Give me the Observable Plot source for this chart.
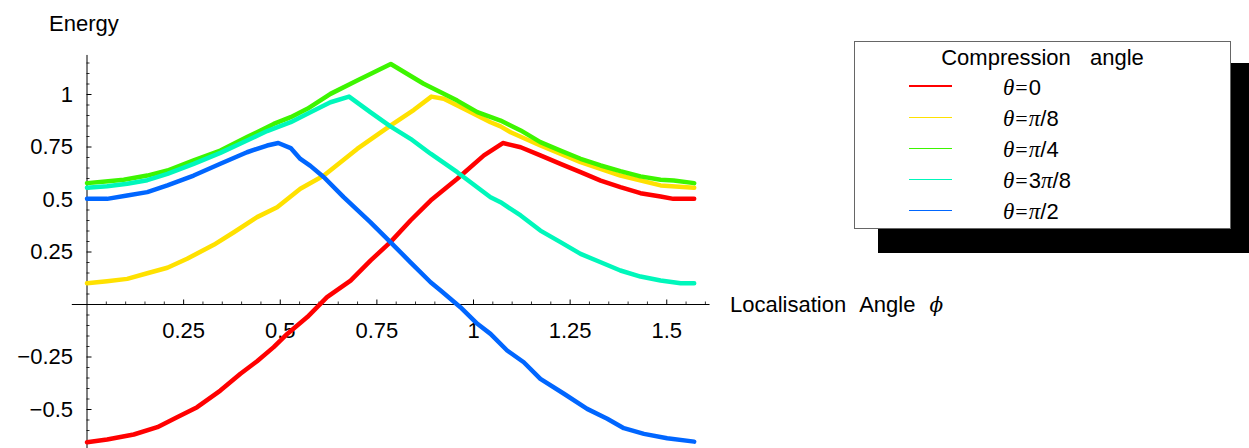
<!DOCTYPE html>
<html>
<head>
<meta charset="utf-8">
<script src="https://cdn.jsdelivr.net/npm/d3@7"></script>
<script src="https://cdn.jsdelivr.net/npm/@observablehq/plot@0.6"></script>
<style>
  body { margin: 0; background: #fff; }
  #wrap { position: relative; width: 1249px; height: 448px; overflow: hidden;
          font-family: "Liberation Sans", Arial, Helvetica, sans-serif; color: #000; }
  #chart { position: absolute; left: 0; top: 0; }
  .abs { position: absolute; white-space: nowrap; font-size: 22px; line-height: 22px; }
  .m { font-family: "Liberation Serif", "Times New Roman", serif; font-style: italic; font-size: 23px; }
  .eq { font-family: "Liberation Serif", "Times New Roman", serif; padding: 0 1px; }
  .phi { font-family: "DejaVu Serif", serif; font-style: italic; font-size: 20px; }
</style>
</head>
<body>
<div id="wrap">
  <div id="chart"></div>
</div>
<script>
// ---- data ----
const seriesNames = ["θ=0", "θ=π/8", "θ=π/4", "θ=3π/8", "θ=π/2"];
const seriesColors = ["#ff0000", "#ffe100", "#3df500", "#00f7bb", "#0066ff"];

const phiRed = [0, 0.052, 0.121, 0.182, 0.233, 0.285, 0.345, 0.397, 0.440, 0.483, 0.518, 0.570, 0.621, 0.682, 0.734, 0.785, 0.837, 0.889, 0.958, 1.027, 1.076, 1.122, 1.173, 1.225, 1.277, 1.329, 1.380, 1.432, 1.484, 1.517, 1.571];
const eRed   = [-0.656, -0.643, -0.619, -0.584, -0.537, -0.489, -0.410, -0.330, -0.270, -0.203, -0.140, -0.060, 0.035, 0.114, 0.210, 0.297, 0.400, 0.495, 0.599, 0.710, 0.769, 0.749, 0.710, 0.670, 0.630, 0.590, 0.559, 0.530, 0.514, 0.503, 0.503];

const phiYellow = [0, 0.052, 0.104, 0.156, 0.208, 0.259, 0.328, 0.380, 0.440, 0.492, 0.552, 0.613, 0.699, 0.785, 0.846, 0.891, 0.923, 0.975, 1.044, 1.070, 1.096, 1.173, 1.277, 1.380, 1.484, 1.571];
const eYellow   = [0.101, 0.111, 0.122, 0.149, 0.175, 0.218, 0.284, 0.344, 0.416, 0.463, 0.551, 0.614, 0.741, 0.852, 0.927, 0.990, 0.980, 0.932, 0.868, 0.848, 0.820, 0.757, 0.678, 0.614, 0.567, 0.556];

const phiGreen = [0, 0.048, 0.095, 0.156, 0.208, 0.276, 0.345, 0.414, 0.483, 0.527, 0.570, 0.630, 0.699, 0.786, 0.871, 0.958, 1.010, 1.070, 1.122, 1.173, 1.225, 1.277, 1.329, 1.380, 1.432, 1.484, 1.518, 1.571];
const eGreen   = [0.578, 0.586, 0.594, 0.614, 0.638, 0.686, 0.733, 0.797, 0.860, 0.892, 0.932, 1.003, 1.067, 1.145, 1.051, 0.971, 0.916, 0.876, 0.829, 0.773, 0.733, 0.694, 0.662, 0.635, 0.610, 0.594, 0.590, 0.578];

const phiCyan = [0, 0.052, 0.104, 0.156, 0.208, 0.276, 0.345, 0.414, 0.466, 0.527, 0.578, 0.630, 0.678, 0.733, 0.785, 0.837, 0.889, 0.958, 1.044, 1.070, 1.122, 1.173, 1.225, 1.277, 1.329, 1.380, 1.432, 1.484, 1.536, 1.571];
const eCyan   = [0.556, 0.563, 0.575, 0.592, 0.622, 0.670, 0.722, 0.781, 0.826, 0.868, 0.916, 0.963, 0.990, 0.916, 0.848, 0.789, 0.718, 0.630, 0.511, 0.487, 0.424, 0.352, 0.297, 0.241, 0.201, 0.162, 0.133, 0.114, 0.101, 0.101];

const phiBlue = [0, 0.052, 0.104, 0.156, 0.208, 0.276, 0.345, 0.414, 0.466, 0.495, 0.527, 0.552, 0.578, 0.613, 0.664, 0.733, 0.785, 0.837, 0.889, 0.915, 0.966, 1.010, 1.044, 1.087, 1.130, 1.173, 1.234, 1.294, 1.346, 1.389, 1.441, 1.501, 1.571];
const eBlue   = [0.503, 0.503, 0.519, 0.535, 0.567, 0.614, 0.670, 0.725, 0.757, 0.769, 0.745, 0.693, 0.660, 0.606, 0.511, 0.392, 0.297, 0.201, 0.106, 0.067, -0.013, -0.092, -0.140, -0.219, -0.275, -0.354, -0.425, -0.497, -0.544, -0.589, -0.616, -0.637, -0.653];

const xTicks = [0.25, 0.5, 0.75, 1, 1.25, 1.5];
const xTickLabels = ["0.25", "0.5", "0.75", "1", "1.25", "1.5"];
const yTicks = [-0.5, -0.25, 0.25, 0.5, 0.75, 1];
const yTickLabels = ["\u22120.5", "\u22120.25", "0.25", "0.5", "0.75", "1"];

const yLabel = "Energy";
const xLabelWords = ["Localisation", "Angle"];
const xLabelSymbol = "ϕ";
const legendTitle = "Compression angle";

// ---- build table ----
const phis = [phiRed, phiYellow, phiGreen, phiCyan, phiBlue];
const energies = [eRed, eYellow, eGreen, eCyan, eBlue];
const rows = [];
seriesNames.forEach((name, k) => {
  phis[k].forEach((p, i) => rows.push({phi: p, energy: energies[k][i], series: name}));
});

// scale geometry
const xDomain = [0, 1.6], xRange = [86.5, 704.9];
const yDomain = [-0.5, 1], yRange = [409, 94];
const pxPerX = (xRange[1] - xRange[0]) / (xDomain[1] - xDomain[0]);
const pxPerY = (yRange[0] - yRange[1]) / (yDomain[1] - yDomain[0]);

const isMajor = (v, step) => Math.abs(v / step - Math.round(v / step)) < 1e-6;
const xMinor = d3.range(1, 33).map(i => +(i * 0.05).toFixed(2)).filter(v => !isMajor(v, 0.25));
const yMinor = d3.range(-13, 24).map(i => +(i * 0.05).toFixed(2)).filter(v => !isMajor(v, 0.25));

const xAxisStart = -0.038, xAxisEnd = 1.612;
const yAxisStart = -0.687, yAxisEnd = 1.186;

const chart = Plot.plot({
  width: 1249,
  height: 448,
  margin: 0,
  style: {background: "transparent", fontFamily: "Liberation Sans, Arial, sans-serif"},
  x: {domain: xDomain, range: xRange, axis: null},
  y: {domain: yDomain, range: yRange, axis: null},
  color: {domain: seriesNames, range: seriesColors},
  marks: [
    // axes lines
    Plot.ruleY([0], {x1: xAxisStart, x2: xAxisEnd, stroke: "#000", strokeWidth: 1}),
    Plot.ruleX([0], {y1: yAxisStart, y2: yAxisEnd, stroke: "#000", strokeWidth: 1}),
    // x ticks (pointing up)
    Plot.ruleX(xTicks, {x: d => d, y1: 0, y2: 4.5 / pxPerY, stroke: "#000", strokeWidth: 1}),
    Plot.ruleX(xMinor, {x: d => d, y1: 0, y2: 2.5 / pxPerY, stroke: "#000", strokeWidth: 0.8}),
    // y ticks (pointing right)
    Plot.ruleY(yTicks, {y: d => d, x1: 0, x2: 5 / pxPerX, stroke: "#000", strokeWidth: 1}),
    Plot.ruleY(yMinor, {y: d => d, x1: 0, x2: 3 / pxPerX, stroke: "#000", strokeWidth: 0.8}),
    // tick labels
    Plot.text(xTicks, {x: d => d, y: 0, text: (d, i) => xTickLabels[i], dy: 26, fontSize: 22, textAnchor: "middle", fill: "#000"}),
    Plot.text(yTicks, {x: 0, y: d => d, text: (d, i) => yTickLabels[i], dx: -14, fontSize: 22, textAnchor: "end", fill: "#000"}),
    // curves
    Plot.line(rows, {x: "phi", y: "energy", z: "series", stroke: "series", strokeWidth: 4.5,
                     strokeLinejoin: "round", strokeLinecap: "round", curve: "linear"})
  ]
});
document.getElementById("chart").appendChild(chart);

// ---- HTML texts and legend ----
const wrap = document.getElementById("wrap");
function addDiv(html, css) {
  const d = document.createElement("div");
  d.className = "abs";
  d.innerHTML = html;
  Object.assign(d.style, css);
  wrap.appendChild(d);
  return d;
}
function mathLabel(s) {
  return Array.from(s).map(ch => {
    if (ch === "θ" || ch === "π") return '<span class="m">' + ch + '</span>';
    if (ch === "=") return '<span class="eq">=</span>';
    return ch;
  }).join("");
}

addDiv(yLabel, {left: "49px", top: "13px"});
addDiv('<span>' + xLabelWords[0] + '</span><span style="margin-left:13px">' + xLabelWords[1] +
       '</span><span class="phi" style="margin-left:14px">' + xLabelSymbol + '</span>',
       {left: "730px", top: "294px"});

// legend shadow + box
addDiv("", {left: "878px", top: "63px", width: "371px", height: "190px", background: "#000"});
addDiv("", {left: "854px", top: "41px", width: "377px", height: "188px", background: "#fff",
            border: "1px solid #666", boxSizing: "border-box"});
addDiv(legendTitle, {left: "854px", top: "47px", width: "377px", textAlign: "center", wordSpacing: "13px"});
const rowY = [86, 117.3, 148.3, 179.3, 210.3];
seriesNames.forEach((name, i) => {
  addDiv("", {left: "909px", top: (rowY[i] - 0.75) + "px", width: "43px", height: "1.5px", background: seriesColors[i]});
  addDiv(mathLabel(name), {left: "1003px", top: (rowY[i] - 9) + "px"});
});
</script>
</body>
</html>
